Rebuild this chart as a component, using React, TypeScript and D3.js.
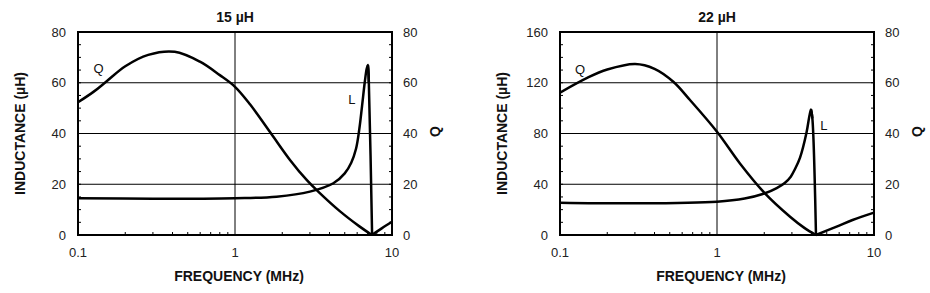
import React from "react";
import * as d3 from "d3";

// ---- Data (frequency in MHz) ----
const titles = ["15 µH", "22 µH"];
const leftMax = [80, 160];
const leftTicks = [[0, 20, 40, 60, 80], [0, 40, 80, 120, 160]];
const leftMinorStep = [5, 10];
const rightTicks = [0, 20, 40, 60, 80];
const xTickLabels = ["0.1", "1", "10"];

// Chart 1 (15 µH)
const q1Freq = [0.1, 0.126, 0.151, 0.2, 0.28, 0.413, 0.598, 0.8, 1.0, 1.246, 1.71, 2.24, 2.86, 3.39, 4.67, 6.2, 7.45, 8.6, 10];
const q1Val = [52.3, 56.5, 60.4, 66.5, 71, 72.2, 68.3, 63, 58.4, 51.5, 39.7, 29.6, 21.7, 17.1, 9.3, 3.4, 0, 2.6, 5.2];
const l1Freq = [0.1, 0.3, 1.0, 1.84, 3.0, 4.23, 5.0, 5.5, 5.9, 6.2, 6.45, 6.7, 6.9, 7.03, 7.12, 7.47];
const l1Val = [14.5, 14.3, 14.5, 15.1, 17.1, 20.4, 24.3, 28.5, 34, 42, 51, 60, 65.5, 67, 60, 0];

// Chart 2 (22 µH)
const q2Freq = [0.1, 0.15, 0.2, 0.301, 0.4, 0.527, 0.673, 1.0, 1.4, 2.02, 2.92, 3.6, 4.27, 5.78, 7.3, 10];
const q2Val = [56.1, 62, 65.2, 67.4, 65.5, 60.4, 53.2, 40.7, 28.2, 16.4, 7.2, 2.8, 0, 3.3, 5.9, 8.8];
const l2Freq = [0.1, 0.3, 1.0, 1.5, 2.02, 2.4, 2.7, 2.95, 3.14, 3.38, 3.72, 3.88, 3.97, 4.05, 4.27];
const l2Val = [25.5, 25, 26.3, 28.8, 32.9, 37, 41, 46, 52, 61, 81, 94, 99, 92, 0];

const qFreqs = [q1Freq, q2Freq];
const qVals = [q1Val, q2Val];
const lFreqs = [l1Freq, l2Freq];
const lVals = [l1Val, l2Val];

// label positions (in data units: freq, right-axis value)
const qLabelAt = [[0.135, 65.5], [0.134, 65.4]];
const lLabelAt = [[5.56, 53.6], [4.8, 43]];

const FONT = "Liberation Sans, Arial, Helvetica, sans-serif";

function Panel({ idx, ox }: { idx: number; ox: number }) {
  const left = ox;
  const width = 314;
  const top = 32;
  const height = 203;
  const x = d3.scaleLog().domain([0.1, 10]).range([left, left + width]);
  const yL = d3.scaleLinear().domain([0, leftMax[idx]]).range([top + height, top]);
  const yR = d3.scaleLinear().domain([0, 80]).range([top + height, top]);

  const smooth = d3.curveCatmullRom.alpha(0.5);
  const lineQ = d3
    .line<[number, number]>()
    .x((d) => x(d[0]))
    .y((d) => yR(d[1]))
    .curve(smooth);
  const lineL = d3
    .line<[number, number]>()
    .x((d) => x(d[0]))
    .y((d) => yL(d[1]))
    .curve(smooth);

  const qPts: [number, number][] = qFreqs[idx].map((f, i) => [f, qVals[idx][i]]);
  const minI = d3.minIndex(qPts, (d) => d[1]);
  const qA = qPts.slice(0, minI + 1);
  const qB = qPts.slice(minI);
  const lPts: [number, number][] = lFreqs[idx].map((f, i) => [f, lVals[idx][i]]);
  const n = lPts.length;
  const lA = lPts.slice(0, n - 1);
  const lB = lPts.slice(n - 3);

  const minorY = d3.range(0, leftMax[idx] + 0.001, leftMinorStep[idx]);
  const minorYR = d3.range(0, 80.001, 5);
  const minorX: number[] = [];
  [0.1, 1].forEach((dec) => {
    for (let k = 2; k <= 9; k++) minorX.push(dec * k);
  });

  const cx = left + width / 2;
  return (
    <g>
      <defs>
        <clipPath id={"clip" + idx}>
          <rect x={left} y={top - 2} width={width + 6} height={height + 4} />
        </clipPath>
      </defs>
      {/* gridlines */}
      {leftTicks[idx].slice(1, -1).map((v) => (
        <line key={"g" + v} x1={left} x2={left + width} y1={yL(v)} y2={yL(v)} stroke="#000" strokeWidth={1} />
      ))}
      <line x1={x(1)} x2={x(1)} y1={top} y2={top + height} stroke="#000" strokeWidth={1} />
      {/* minor ticks */}
      {minorY.map((v) => (
        <line key={"ml" + v} x1={left} x2={left + 3} y1={yL(v)} y2={yL(v)} stroke="#000" strokeWidth={1} />
      ))}
      {minorYR.map((v) => (
        <line key={"mr" + v} x1={left + width - 3} x2={left + width} y1={yR(v)} y2={yR(v)} stroke="#000" strokeWidth={1} />
      ))}
      {minorX.map((v) => (
        <line key={"mx" + v} x1={x(v)} x2={x(v)} y1={top + height - 3} y2={top + height} stroke="#000" strokeWidth={1} />
      ))}
      {/* frame */}
      <rect x={left} y={top} width={width} height={height} fill="none" stroke="#000" strokeWidth={2} />
      {/* curves */}
      <g clipPath={`url(#clip${idx})`} fill="none" stroke="#000" strokeWidth={2.5} strokeLinejoin="round">
        <path d={lineQ(qA) || ""} />
        <path d={lineQ(qB) || ""} />
        <path d={lineL(lA) || ""} />
        <path d={lineL(lB) || ""} />
      </g>
      {/* tick labels */}
      {leftTicks[idx].map((v) => (
        <text key={"tl" + v} x={left - 12} y={yL(v)} dy="0.35em" textAnchor="end" fontSize={13} fontFamily={FONT} fill="#222">
          {v}
        </text>
      ))}
      {rightTicks.map((v) => (
        <text key={"tr" + v} x={left + width + 11} y={yR(v)} dy="0.35em" textAnchor="start" fontSize={13} fontFamily={FONT} fill="#222">
          {v}
        </text>
      ))}
      {xTickLabels.map((t) => (
        <text key={"tx" + t} x={x(+t)} y={252} dy="0.35em" textAnchor="middle" fontSize={13} fontFamily={FONT} fill="#222">
          {t}
        </text>
      ))}
      {/* curve labels */}
      <text x={x(qLabelAt[idx][0])} y={yR(qLabelAt[idx][1])} dy="0.35em" textAnchor="middle" fontSize={13} fontFamily={FONT} fill="#111">Q</text>
      <text x={x(lLabelAt[idx][0])} y={yR(lLabelAt[idx][1])} dy="0.35em" textAnchor="middle" fontSize={13} fontFamily={FONT} fill="#111">L</text>
      {/* titles */}
      <text x={cx} y={17} dy="0.35em" textAnchor="middle" fontSize={14} fontWeight="bold" fontFamily={FONT} fill="#111">
        {titles[idx]}
      </text>
      <text x={cx + 4} y={276} dy="0.35em" textAnchor="middle" fontSize={14} fontWeight="bold" fontFamily={FONT} fill="#111">
        FREQUENCY (MHz)
      </text>
      <text transform={`translate(${left - 58},${top + height / 2}) rotate(-90)`} dy="0.35em" textAnchor="middle" fontSize={14} fontWeight="bold" fontFamily={FONT} fill="#111">
        INDUCTANCE (µH)
      </text>
      <text transform={`translate(${left + width + 43},${top + height / 2 - 2}) rotate(-90)`} dy="0.35em" textAnchor="middle" fontSize={14} fontWeight="bold" fontFamily={FONT} fill="#111">
        Q
      </text>
    </g>
  );
}

export default function App() {
  return (
    <svg width={930} height={293} style={{ position: "absolute", left: 0, top: 0, background: "#fff" }}>
      <rect width={930} height={293} fill="#fff" />
      <Panel idx={0} ox={78} />
      <Panel idx={1} ox={560} />
    </svg>
  );
}
